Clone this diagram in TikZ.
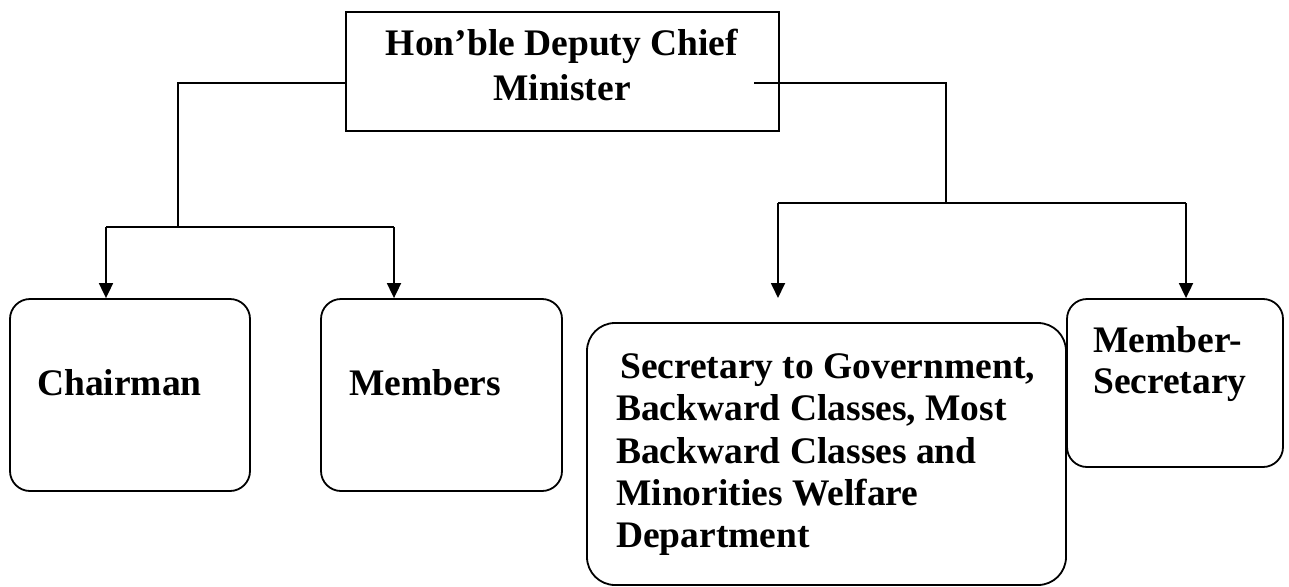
\documentclass[tikz,border=0pt]{standalone}
\usepackage{fontspec}
\setmainfont{Liberation Serif}
\usetikzlibrary{arrows.meta}
\tikzset{
  ln/.style={line width=1.8pt},
  arr/.style={ln,-{Triangle[width=14pt,length=15pt]}},
  sqbox/.style={draw,ln,rectangle,inner sep=0pt},
  rbox/.style={draw,ln,rectangle,rounded corners=#1,inner sep=0pt},
  txt/.style={inner sep=0pt,font=\fontsize{37.5}{42}\selectfont\bfseries},
}
\begin{document}
\begin{tikzpicture}[x=1pt,y=-1pt]
\useasboundingbox (0,0) rectangle (1289,586);
% boxes
\node[sqbox,minimum width=433pt,minimum height=119pt] (top) at (562.5,71.5) {};
\node[rbox=20pt,minimum width=240pt,minimum height=192pt] (chair) at (130,395) {};
\node[rbox=20pt,minimum width=241pt,minimum height=192pt] (memb) at (441.5,395) {};
\node[rbox=28pt,minimum width=479pt,minimum height=262pt] (secr) at (826.5,454) {};
\node[rbox=20pt,minimum width=216pt,minimum height=168pt] (msec) at (1175,383) {};
% texts
\node[txt,anchor=base] (t1) at (562,56) {Hon’ble Deputy Chief};
\node[txt,anchor=base] (t2) at (562,100) {Minister};
\node[txt,anchor=base west] (c1) at (37,395) {Chairman};
\node[txt,anchor=base west] (m1) at (349,395) {Members};
\node[txt,anchor=base west] (s1) at (620,378) {Secretary to Government,};
\node[txt,anchor=base west] (s2) at (616,420) {Backward Classes, Most};
\node[txt,anchor=base west] (s3) at (616,463) {Backward Classes and};
\node[txt,anchor=base west] (s4) at (616,505) {Minorities Welfare};
\node[txt,anchor=base west] (s5) at (616,547) {Department};
\node[txt,anchor=base west] (ms1) at (1093,352) {Member-};
\node[txt,anchor=base west] (ms2) at (1093,393) {Secretary};
% connector coordinates
\coordinate (lstart) at ([yshift=-11.5pt]top.west);
\coordinate (lcorner) at (178,83);
\coordinate (ljoin) at (178,227);
\coordinate (lleft) at (106,227);
\coordinate (lright) at (394,227);
\coordinate (rstart) at (754,83);
\coordinate (rcorner) at (946,83);
\coordinate (rjoin) at (946,203);
\coordinate (rleft) at (778,203);
\coordinate (rright) at (1186,203);
\coordinate (rfree) at (778,298);
% connectors
\draw[ln] (lstart) -- (lcorner) -- (ljoin);
\draw[ln] (lleft) -- (lright);
\draw[arr] (lleft) -- (lleft |- chair.north);
\draw[arr] (lright) -- (lright |- memb.north);
\draw[ln] (rstart) -- (rcorner) -- (rjoin);
\draw[ln] (rleft) -- (rright);
\draw[arr] (rleft) -- (rfree);
\draw[arr] (rright) -- (rright |- msec.north);
\end{tikzpicture}
\end{document}
